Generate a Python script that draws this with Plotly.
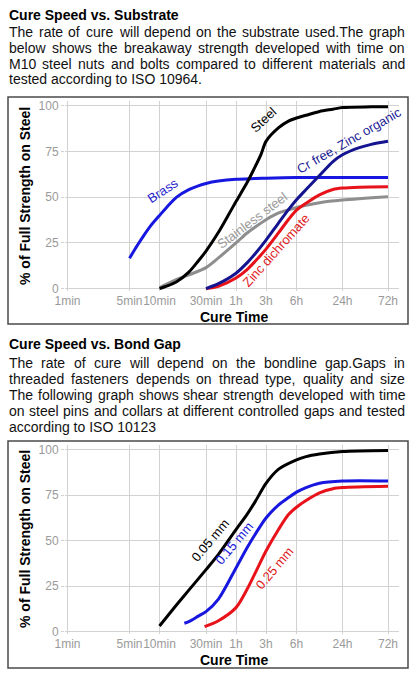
import numpy as np
import plotly.graph_objects as go

# ---------------- data ----------------
TICK_LABELS = ["1min", "5min", "10min", "30min", "1h", "3h", "6h", "24h", "72h"]
TICK_MINUTES = [1, 5, 10, 30, 60, 180, 360, 1440, 4320]
Y_TICKS = [0, 25, 50, 75, 100]

# Chart 1: substrate (time in minutes, % of full strength on steel)
brass_t = [5, 6, 7, 8, 10, 12, 15, 20, 25, 30, 40, 60, 120, 180, 360, 1440, 4320]
brass_v = [16.6, 23.7, 29.3, 33.8, 40, 44.8, 50, 54.1, 56.2, 57.5, 58.8, 59.8, 60.2, 60.4, 60.7, 60.8, 60.8]

steel_t = [10, 12, 15, 20, 25, 30, 40, 50, 60, 90, 120, 150, 180, 240, 300, 360, 480, 720, 1080, 1440, 2880, 4320]
steel_v = [0, 1.5, 3.8, 9, 15.1, 20.5, 30.8, 40, 47.6, 58, 66.4, 73.4, 80.5, 88, 91.6, 93.3, 94.8, 96.9, 98.1, 99, 99.4, 99.5]

stainless_t = [10, 15, 20, 30, 40, 60, 90, 120, 180, 240, 360, 480, 720, 1440, 4320]
stainless_v = [0.5, 5, 7.5, 11.5, 16.8, 25, 30.4, 33.6, 37.7, 41.4, 44.4, 45.6, 47, 48.4, 50.2]

crfree_t = [30, 40, 60, 90, 120, 180, 240, 300, 360, 480, 720, 1080, 1440, 2160, 2880, 4320]
crfree_v = [0, 2.7, 8.4, 14.1, 18.9, 26.5, 36, 43.2, 48.6, 54.2, 61.9, 69.5, 73.2, 77.1, 78.9, 80.6]

zinc_t = [30, 40, 60, 90, 120, 180, 240, 300, 360, 480, 720, 1080, 1440, 2160, 4320]
zinc_v = [0, 1.3, 5.8, 10.4, 14.8, 21.6, 30.6, 37.8, 42.9, 46.7, 51.3, 54.2, 55, 55.5, 55.7]

# Chart 2: bond gap
gap05_t = [10, 15, 20, 30, 40, 60, 90, 120, 180, 240, 360, 480, 720, 1440, 4320]
gap05_v = [3.1, 14.8, 22.8, 34.1, 42.5, 56.1, 64.5, 71.2, 81.5, 89.3, 94.4, 96.2, 97.6, 99, 99.6]

gap15_t = [18, 20, 25, 30, 40, 60, 90, 120, 180, 240, 300, 360, 480, 720, 1440, 4320]
gap15_v = [4.6, 5.5, 8.5, 11, 17.9, 35, 46.1, 53.3, 62.5, 69.7, 73.7, 76.7, 79.2, 81.6, 82.8, 82.8]

gap25_t = [29, 40, 60, 90, 120, 180, 240, 300, 360, 480, 720, 1080, 1440, 4320]
gap25_v = [2.7, 6, 13.2, 23.3, 31.9, 44.3, 56.3, 64.4, 68.4, 72.1, 76.3, 78.6, 79.2, 79.9]

TITLE1 = "Cure Speed vs. Substrate"
PARA1 = ["The rate of cure will depend on the substrate used.The graph",
         "below shows the breakaway strength developed with time on",
         "M10 steel nuts and bolts compared to different materials and",
         "tested according to ISO 10964."]
TITLE2 = "Cure Speed vs. Bond Gap"
PARA2 = ["The rate of cure will depend on the bondline gap.Gaps in",
         "threaded fasteners depends on thread type, quality and size",
         "The following graph shows shear strength developed with time",
         "on steel pins and collars at different controlled gaps and tested",
         "according to ISO 10123"]

# ---------------- layout helpers ----------------
W, H = 416, 687
FONT = "Liberation Sans, Arial, sans-serif"
# custom (non-log) time axis: tick slot positions
TICK_POS = [0, 62, 92, 138.5, 168.5, 198.5, 229, 275, 320.5]


def tpos(t):
    return np.interp(np.log(np.asarray(t, float)), np.log(TICK_MINUTES), TICK_POS)


def X(p):
    return p / W


def Y(p):
    return 1 - p / H


AW = {' ': 278, ',': 278, '.': 278, '-': 333, '0': 556, '1': 556, '2': 556, '3': 556, '4': 556,
      '5': 556, '6': 556, '7': 556, '8': 556, '9': 556,
      'A': 667, 'B': 667, 'C': 722, 'D': 722, 'E': 667, 'F': 611, 'G': 778, 'H': 722, 'I': 278,
      'J': 500, 'K': 667, 'L': 556, 'M': 833, 'N': 722, 'O': 778, 'P': 667, 'Q': 778, 'R': 722,
      'S': 667, 'T': 611, 'U': 722, 'V': 667, 'W': 944, 'X': 667, 'Y': 667, 'Z': 611,
      'a': 556, 'b': 556, 'c': 500, 'd': 556, 'e': 556, 'f': 278, 'g': 556, 'h': 556, 'i': 222,
      'j': 222, 'k': 500, 'l': 222, 'm': 833, 'n': 556, 'o': 556, 'p': 556, 'q': 556, 'r': 333,
      's': 500, 't': 278, 'u': 556, 'v': 500, 'w': 722, 'x': 500, 'y': 500, 'z': 500}


def tw(s, size):
    return sum(AW.get(c, 556) for c in s) / 1000.0 * size


annotations = []
BODY_SIZE = 14
LEFT, RIGHT = 9, 405


def add_text(txt, xp, yp, size, bold=False, color="#111111"):
    annotations.append(dict(text=("<b>%s</b>" % txt) if bold else txt, x=X(xp), y=Y(yp),
                            xref="paper", yref="paper", xanchor="left", yanchor="middle",
                            showarrow=False, borderpad=0, borderwidth=0,
                            font=dict(family=FONT, size=size, color=color)))


def add_para(lines, y0, step):
    for i, line in enumerate(lines):
        yp = y0 + i * step
        last = i == len(lines) - 1
        words = line.split(" ")
        if last or len(words) < 2:
            add_text(line, LEFT, yp, BODY_SIZE)
            continue
        widths = [tw(w, BODY_SIZE) for w in words]
        gap = (RIGHT - LEFT - sum(widths)) / (len(words) - 1)
        xcur = LEFT
        for w, wd in zip(words, widths):
            add_text(w, xcur, yp, BODY_SIZE)
            xcur += wd + gap


add_text(TITLE1, LEFT, 15.5, 14, bold=True, color="#000000")
add_para(PARA1, 32.5, 15.6)
add_text(TITLE2, LEFT, 344, 14, bold=True, color="#000000")
add_para(PARA2, 363, 15.9)

fig = go.Figure()


def line(t, v, color, xa, ya, width=3):
    fig.add_trace(go.Scatter(x=tpos(t), y=v, mode="lines", xaxis=xa, yaxis=ya,
                             line=dict(color=color, width=width, shape="spline", smoothing=0.8),
                             hoverinfo="skip", showlegend=False))


BLUE = "#1717e0"
NAVY = "#141490"
RED = "#e8121a"
GRAY = "#8e8e8e"

line(stainless_t, stainless_v, GRAY, "x", "y")
line(brass_t, brass_v, BLUE, "x", "y")
line(zinc_t, zinc_v, RED, "x", "y")
line(crfree_t, crfree_v, NAVY, "x", "y")
line(steel_t, steel_v, "#000000", "x", "y")

line(gap25_t, gap25_v, RED, "x2", "y2")
line(gap15_t, gap15_v, BLUE, "x2", "y2")
line(gap05_t, gap05_v, "#000000", "x2", "y2")


def curve_label(txt, xp, yp, angle, color):
    annotations.append(dict(text=txt, x=X(xp), y=Y(yp), xref="paper", yref="paper",
                            xanchor="center", yanchor="middle", showarrow=False,
                            textangle=angle, borderpad=0, borderwidth=0,
                            font=dict(family=FONT, size=13, color=color)))


curve_label("Brass", 163, 190.5, -33, "#2828d0")
curve_label("Steel", 264, 120, -43, "#000000")
curve_label("Cr free, Zinc organic", 349, 140.5, -30, "#1c1c96")
curve_label("Stainless steel", 252, 220, -37, "#9a9a9a")
curve_label("Zinc dichromate", 276, 250.5, -48, "#e01a22")
curve_label("0.05 mm", 210, 540.5, -50, "#000000")
curve_label("0.15 mm", 234, 543.5, -50, "#2020d8")
curve_label("0.25 mm", 274, 568, -50, "#e01a22")

# axis titles
for yc, xc_t in [(196, 316.5), (539, 659.5)]:
    annotations.append(dict(text="<b>% of Full Strength on Steel</b>", x=X(25), y=Y(yc),
                            xref="paper", yref="paper", xanchor="center", yanchor="middle",
                            textangle=-90, showarrow=False, borderpad=0, borderwidth=0,
                            font=dict(family=FONT, size=14, color="#000000")))
    annotations.append(dict(text="<b>Cure Time</b>", x=X(234), y=Y(xc_t),
                            xref="paper", yref="paper", xanchor="center", yanchor="middle",
                            showarrow=False, borderpad=0, borderwidth=0,
                            font=dict(family=FONT, size=14, color="#000000")))

GRID = "#d2d2d2"
TICKFONT = dict(family=FONT, size=12, color="#9a9a9a")


def xaxis(anchor):
    return dict(domain=[X(65), X(399)], range=[-2.5, 331.5], anchor=anchor,
                tickmode="array", tickvals=TICK_POS, ticktext=TICK_LABELS, tickangle=0,
                ticklabelstandoff=1,
                showgrid=True, gridcolor=GRID, gridwidth=1, zeroline=False, showline=False,
                ticks="", tickfont=TICKFONT, fixedrange=True, automargin=False)


def yaxis(anchor, top, bottom):
    return dict(domain=[Y(bottom), Y(top)], range=[-1.3, 102.6], anchor=anchor,
                tickmode="array", tickvals=Y_TICKS, ticktext=[str(v) for v in Y_TICKS],
                showgrid=True, gridcolor=GRID, gridwidth=1, zeroline=False, showline=False,
                ticks="outside", ticklen=3, tickcolor=GRID, tickfont=TICKFONT, fixedrange=True,
                automargin=False)


shapes = []
for top, bottom in [(97, 324), (441, 668)]:
    shapes.append(dict(type="rect", xref="paper", yref="paper", x0=X(8), x1=X(408),
                       y0=Y(bottom), y1=Y(top), line=dict(color="#4a4a4a", width=1.5),
                       fillcolor="rgba(0,0,0,0)", layer="below"))

fig.update_layout(
    width=W, height=H, margin=dict(l=0, r=0, t=0, b=0, pad=0),
    paper_bgcolor="white", plot_bgcolor="white",
    xaxis=xaxis("y"), yaxis=yaxis("x", 101, 291),
    xaxis2=xaxis("y2"), yaxis2=yaxis("x2", 445, 634),
    annotations=annotations, shapes=shapes, showlegend=False,
)

fig.write_html("out.html")
